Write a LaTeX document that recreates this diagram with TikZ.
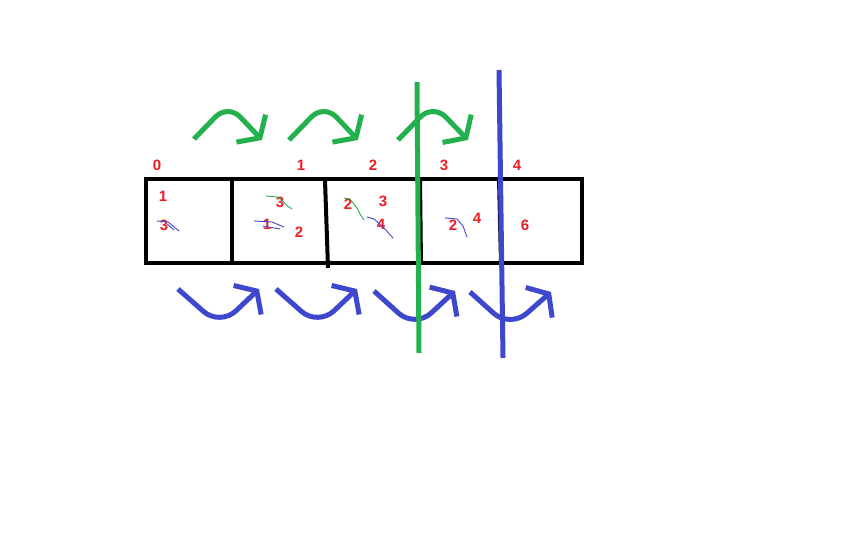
\documentclass[tikz,border=0pt]{standalone}
\usepackage{fontspec}
\setmainfont{Liberation Sans}
\usetikzlibrary{arrows.meta}
\definecolor{paintred}{RGB}{237,28,36}
\definecolor{paintgreen}{RGB}{34,177,76}
\definecolor{paintblue}{RGB}{63,72,204}

\begin{document}
\begin{tikzpicture}[x=1pt, y=-1pt,
    num/.style={text=paintred, font=\fontsize{15}{17}\selectfont\bfseries, inner sep=0pt},
    cellline/.style={line width=4pt, draw=black},
    hop/.style={line width=5pt, line join=round, -{Straight Barb[length=13pt, width=40pt, line width=5pt]}},
    scribble/.style={line width=0.9pt, line cap=round, line join=round}
]
    \fill[white] (0,0) rectangle (864,540);
    \useasboundingbox (0,0) rectangle (864,540);

    % Array cells
    \draw[cellline] (146,179) rectangle (582,263);
    \draw[cellline] (232,179) -- (232,263);
    \draw[cellline] (325,180) -- (328,268);
    \draw[cellline] (420,179) -- (421,265);
    \draw[cellline] (499,179) -- (501,263);

    % Indices
    \node[num] (i0) at (157,165) {0};
    \node[num] (i1) at (301,165) {1};
    \node[num] (i2) at (373,165) {2};
    \node[num] (i3) at (444,165) {3};
    \node[num] (i4) at (517,165) {4};

    % Cell values
    \node[num] (a1) at (163,196) {1};
    \node[num] (a3) at (164,225) {3};
    \node[num] (b3) at (280,202) {3};
    \node[num] (b1) at (267,224) {1};
    \node[num] (b2) at (299,232) {2};
    \node[num] (c2) at (348,204) {2};
    \node[num] (c3) at (383,201) {3};
    \node[num] (c4) at (381,224) {4};
    \node[num] (d2) at (453,225) {2};
    \node[num] (d4) at (477,218) {4};
    \node[num] (e6) at (525,225) {6};

    % Strike marks
    \draw[scribble, paintblue] (157,221) -- (168,222) -- (179,231);
    \draw[scribble, paintblue] (167,224) -- (174,230);
    \draw[scribble, paintgreen] (266,196) -- (277,197) -- (283,201) -- (286,205) -- (292,209);
    \draw[scribble, paintblue] (254,221) -- (272,222) -- (284,227);
    \draw[scribble, paintblue] (263,226) -- (280,229);
    \draw[scribble, paintgreen] (344,198) -- (350,199) -- (357,208) -- (360,214) -- (364,220);
    \draw[scribble, paintblue] (367,217) -- (374,219) -- (384,228) -- (393,238);
    \draw[scribble, paintblue] (445,218) -- (457,219) -- (463,226) -- (467,237);

    % Forward hops (top)
    \draw[hop, paintgreen, rounded corners=18pt] (194,139) -- (228,104) -- (262,140);
    \draw[hop, paintgreen, rounded corners=18pt] (289,140) -- (324,104) -- (358,140);
    \draw[hop, paintgreen, rounded corners=18pt] (398,140) -- (433,104) -- (468,140);

    % Forward hops (bottom)
    \draw[hop, paintblue, rounded corners=22pt] (178,289) -- (220,326) -- (259,289);
    \draw[hop, paintblue, rounded corners=22pt] (276,289) -- (318,326) -- (357,289);
    \draw[hop, paintblue, rounded corners=22pt] (374,291) -- (415,328) -- (455,291);
    \draw[hop, paintblue, rounded corners=22pt] (470,292) -- (510,328) -- (551,292);

    % Cut lines
    \draw[line width=5pt, paintgreen] (417,82) -- (419,353);
    \draw[line width=5pt, paintblue] (499,70) -- (503,358);
\end{tikzpicture}
\end{document}
